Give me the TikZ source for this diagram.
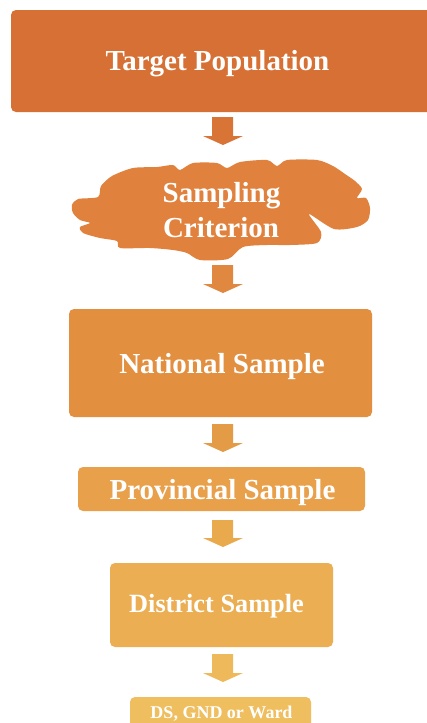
\documentclass[tikz,border=0pt]{standalone}
\usepackage{fontspec}
\setmainfont{Liberation Serif}
\definecolor{c1}{HTML}{D67034}
\definecolor{c2}{HTML}{E0823D}
\definecolor{c3}{HTML}{E28F40}
\definecolor{c4}{HTML}{E8A04B}
\definecolor{c5}{HTML}{EBAE53}
\definecolor{c6}{HTML}{EEBE5F}
\definecolor{a1}{HTML}{D87436}
\definecolor{a2}{HTML}{E08840}
\definecolor{a3}{HTML}{E39B45}
\definecolor{a4}{HTML}{E9A94D}
\definecolor{a5}{HTML}{EDB95A}
\tikzset{
  boxshape/.style={rounded corners=5pt},
  lbl/.style={text=white, font=\bfseries\fontsize{29}{35}\selectfont, anchor=base, inner sep=0pt},
  midlbl/.style={text=white, font=\bfseries\fontsize{26.3}{32}\selectfont, anchor=base, inner sep=0pt},
  smalllbl/.style={text=white, font=\bfseries\fontsize{18}{21}\selectfont, anchor=base, inner sep=0pt}
}
\newcommand{\dnarrow}[3]{% top, tip, color
  \fill[#3] (212,#1) -- (233,#1) -- (233,#2-9) -- (243,#2-9) -- (223,#2) -- (203,#2-9) -- (212,#2-9) -- cycle;}
\begin{document}
\begin{tikzpicture}[x=1pt,y=-1pt]
\useasboundingbox (0,0) rectangle (427,723);
\fill[white] (0,0) rectangle (427,723);
% boxes
\fill[c1, boxshape] (11,10) rectangle (432,112);
\node[lbl] (tp) at (217.5,70) {Target Population};
\dnarrow{117}{145}{a1}
% cloud
\fill[c2] plot[smooth cycle, tension=0.45] coordinates {
 (72,205) (78,199) (98,197) (101,186) (112,176) (133,168) (157,167) (173,165)
 (180,170) (193,163) (217,163) (227,168) (240,162) (267,160) (277,166) (287,160)
 (317,160) (333,166) (345,174) (355,181) (362,189) (357,198) (366,198) (370,208)
 (368,220) (357,227) (334,229) (309,214) (321,232) (317,243) (290,245) (267,245)
 (243,247) (228,259) (200,260) (187,253) (173,250) (150,248) (120,248) (117,241)
 (100,238) (83,233) (80,227) (90,223) (80,220) (73,213)};
\node[lbl] (sc1) at (221.5,202) {Sampling};
\node[lbl] (sc2) at (221,237) {Criterion};
\dnarrow{265}{293}{a2}
\fill[c3, boxshape] (69,309) rectangle (372,417);
\node[lbl] (ns) at (222,373) {National Sample};
\dnarrow{424}{452}{a3}
\fill[c4, boxshape] (78,467) rectangle (365,511);
\node[lbl] (ps) at (222.5,499) {Provincial Sample};
\dnarrow{520}{547}{a4}
\fill[c5, boxshape] (110,563) rectangle (333,647);
\node[midlbl] (ds) at (216.5,612) {District Sample};
\dnarrow{654}{682}{a5}
\fill[c6, boxshape] (130,697) rectangle (311,735);
\node[smalllbl] (dg) at (221.5,718) {DS, GND or Ward};
\end{tikzpicture}
\end{document}
